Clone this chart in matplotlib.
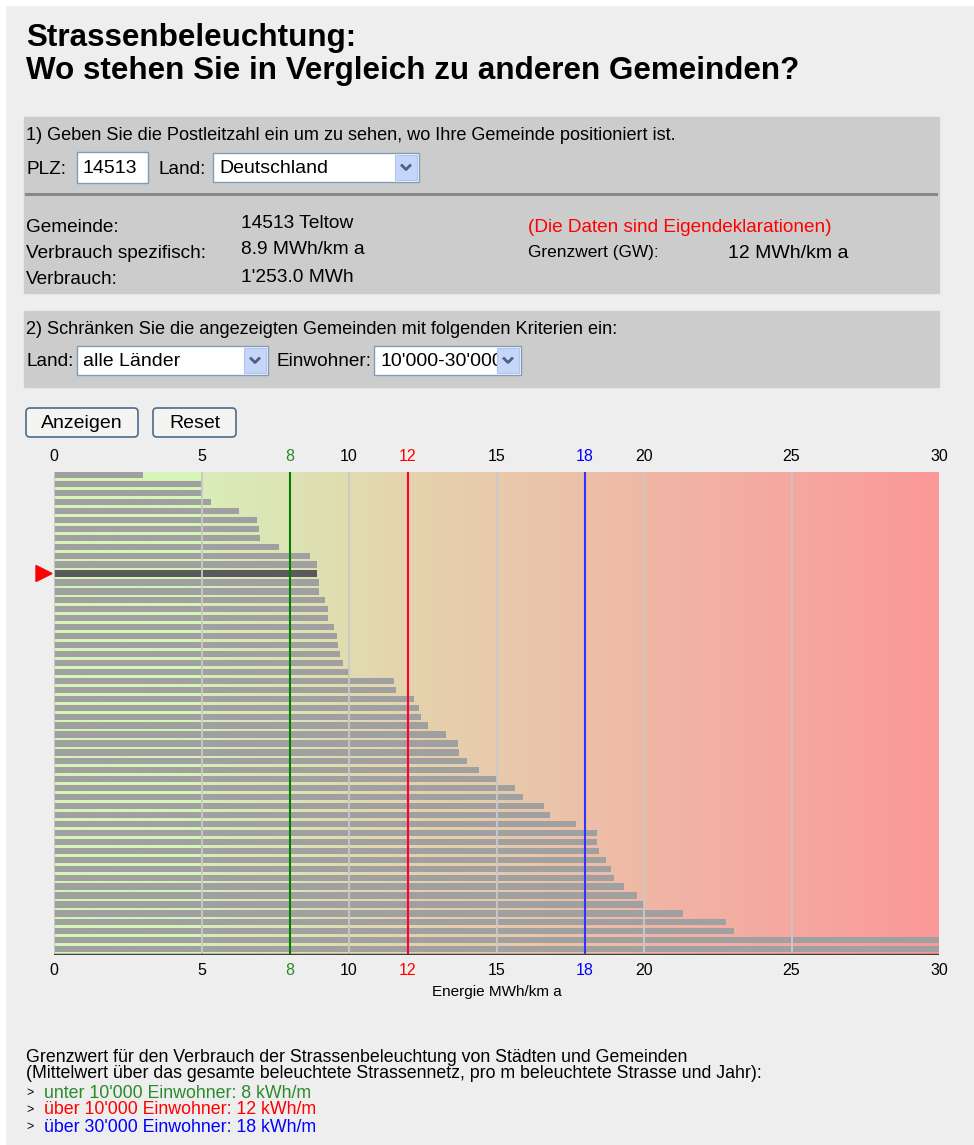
import matplotlib
matplotlib.use('Agg')
import matplotlib.pyplot as plt
from matplotlib.patches import Rectangle, FancyBboxPatch, Polygon
import numpy as np

plt.rcParams['font.family'] = ['Liberation Sans', 'DejaVu Sans']

# values, MWh/km a, one row per municipality (top to bottom)
verbrauch = [3.0, 5.0, 5.0, 5.32, 6.28, 6.88, 6.94, 6.98, 7.64, 8.69,
             8.9, 8.9, 8.98, 8.98, 9.19, 9.28, 9.28, 9.48, 9.58, 9.64,
             9.68, 9.78, 10.0, 11.54, 11.58, 12.19, 12.38, 12.44, 12.69, 13.30,
             13.69, 13.74, 13.99, 14.40, 15.0, 15.63, 15.91, 16.62, 16.83, 17.68,
             18.41, 18.41, 18.47, 18.71, 18.88, 18.98, 19.32, 19.77, 19.97, 21.33,
             22.77, 23.04, 30.0, 30.0]
teltow_idx = 11

grid_ticks = [0, 5, 10, 15, 20, 25]
limits = [8, 12, 18]
limit_colors = ['#008000', '#ff0033', '#3333ff']
tick_vals = [0, 5, 8, 10, 12, 15, 18, 20, 25, 30]
tick_colors = ['black', 'black', '#2a8a2a', 'black', '#ff0000', 'black', '#0000ff', 'black', 'black', 'black']

W, H = 974, 1145
fig = plt.figure(figsize=(W / 100, H / 100), dpi=100)
fig.patch.set_facecolor('#eeeeee')

page = fig.add_axes([0, 0, 1, 1])
page.set_xlim(0, W)
page.set_ylim(H, 0)
page.axis('off')

# white frame at top/left
page.add_patch(Rectangle((0, 0), W, 5, color='white', zorder=0))
page.add_patch(Rectangle((0, 0), 5, H, color='white', zorder=0))


def txt(x, y, s, size=13.1, color='black', **kw):
    page.text(x, y, s, fontsize=size, color=color, va='center', ha=kw.pop('ha', 'left'), **kw)


def field(x0, y0, x1, y1, s, arrow=False):
    page.add_patch(Rectangle((x0, y0), x1 - x0, y1 - y0, facecolor='white',
                             edgecolor='#7f9db9', lw=1))
    t = page.text(x0 + 6, (y0 + y1) / 2 + 1, s, fontsize=14, va='center')
    if arrow:
        ax0 = x1 - 24
        clip = Rectangle((x0, y0), ax0 - x0, y1 - y0, transform=page.transData)
        t.set_clip_on(True)
        t.set_clip_path(clip)
        page.add_patch(Rectangle((ax0, y0 + 2), 22, y1 - y0 - 4, facecolor='#c5d6fa',
                                 edgecolor='#b0c4ee', lw=0.8, zorder=3))
        cx, cy = ax0 + 11, (y0 + y1) / 2
        page.plot([cx - 4, cx, cx + 4], [cy - 2, cy + 2, cy - 2], color='#4d6185', lw=2, zorder=4)


# title
page.text(26, 38, 'Strassenbeleuchtung:', fontsize=22.6, fontweight='bold', va='center')
page.text(26, 71, 'Wo stehen Sie in Vergleich zu anderen Gemeinden?', fontsize=22.6,
          fontweight='bold', va='center')

# panel 1
page.add_patch(Rectangle((24, 117), 915, 176, color='#cccccc', zorder=0.5))
txt(26, 135, '1) Geben Sie die Postleitzahl ein um zu sehen, wo Ihre Gemeinde positioniert ist.')
txt(26, 169, 'PLZ:', 13.7)
field(77, 152, 148, 183, '14513')
txt(158, 169, 'Land:', 13.7)
field(213, 153, 419, 182, 'Deutschland', arrow=True)
page.plot([26, 936], [194, 194], color='#888888', lw=2.2)

txt(26, 228, 'Gemeinde:', 13.7)
txt(26, 254, 'Verbrauch spezifisch:', 13.7)
txt(26, 280, 'Verbrauch:', 13.7)
txt(241, 223, '14513 Teltow', 13.8)
txt(241, 250, '8.9 MWh/km a', 13.8)
txt(241, 277, "1'253.0 MWh", 13.8)
txt(528, 227, '(Die Daten sind Eigendeklarationen)', 13.7, color='#ff0000')
txt(528, 253, 'Grenzwert (GW):', 12.4)
txt(728, 253, '12 MWh/km a', 14)

# panel 2
page.add_patch(Rectangle((24, 311), 915, 76, color='#cccccc', zorder=0.5))
txt(26, 329, '2) Schränken Sie die angezeigten Gemeinden mit folgenden Kriterien ein:')
txt(26, 361, 'Land:', 13.7)
field(77, 346, 268, 375, 'alle Länder', arrow=True)
txt(277, 361, 'Einwohner:', 13.7)
field(374, 346, 521, 375, "10'000-30'000", arrow=True)

# buttons
for x0, x1, s in [(26, 138, 'Anzeigen'), (153, 236, 'Reset')]:
    page.add_patch(FancyBboxPatch((x0, 408), x1 - x0, 29, boxstyle='round,pad=0,rounding_size=4',
                                  facecolor='#f4f4f2', edgecolor='#4f6a8a', lw=1.2))
    page.text((x0 + x1) / 2, 423.5, s, fontsize=14, ha='center', va='center')

# chart
cx0, cx1, cy0, cy1 = 54, 939, 472, 955
ax = fig.add_axes([cx0 / W, 1 - cy1 / H, (cx1 - cx0) / W, (cy1 - cy0) / H])
n = len(verbrauch)
ax.set_xlim(0, 30)
ax.set_ylim(n, 0)

xs = np.linspace(0, 30, 601)
nodes = [0, 4.999, 5, 8, 10, 12, 15, 18, 20, 25, 30]
cols = ['#d6f5b8', '#d6f5b8', '#d9edb9', '#dde3b4', '#e0dcb0', '#e5d3ad', '#e8caab',
        '#ecc0a8', '#f0b7a5', '#f5a8a0', '#fb9898']
rgb = np.array([matplotlib.colors.to_rgb(c) for c in cols])
grad = np.stack([np.interp(xs, nodes, rgb[:, k]) for k in range(3)], axis=-1)[None, :, :]
ax.imshow(grad, extent=[0, 30, n, 0], aspect='auto', interpolation='bilinear', zorder=0)

bar_colors = ['#a0a0a0'] * n
bar_colors[teltow_idx] = '#5a5a5a'
ax.barh(np.arange(n), verbrauch, height=0.70, align='edge', color=bar_colors, zorder=1)

for g in grid_ticks:
    ax.axvline(g, color='#c8c8c8', lw=1.3, zorder=2)
for v, c in zip(limits, limit_colors):
    ax.axvline(v, color=c, lw=1.5, zorder=3)
ax.axhline(n, color='#404040', lw=2.5, zorder=4)

ax.set_xticks(tick_vals)
ax.set_xticklabels([str(v) for v in tick_vals])
ax.tick_params(axis='x', top=True, labeltop=True, bottom=True, labelbottom=True,
               length=0, pad=6, labelsize=11.5)
for t, c in zip(ax.xaxis.get_major_ticks(), tick_colors):
    t.label1.set_color(c)
    t.label2.set_color(c)
ax.set_yticks([])
ax.set_xlabel('Energie MWh/km a', fontsize=11, labelpad=5)
for s in ax.spines.values():
    s.set_visible(False)

# marker for selected municipality
ty = cy0 + (teltow_idx + 0.35) * (cy1 - cy0) / n
page.add_patch(Polygon([[36, ty - 8], [52, ty], [36, ty + 8]], closed=True, color='#ff0000'))

# footer
txt(26, 1057, 'Grenzwert für den Verbrauch der Strassenbeleuchtung von Städten und Gemeinden', 12.8)
txt(26, 1074, '(Mittelwert über das gesamte beleuchtete Strassennetz, pro m beleuchtete Strasse und Jahr):', 12.8)
for y, s, c in [(1093, "unter 10'000 Einwohner: 8 kWh/m", '#2a8a2a'),
                (1110, "über 10'000 Einwohner: 12 kWh/m", '#ff0000'),
                (1127, "über 30'000 Einwohner: 18 kWh/m", '#0000ff')]:
    txt(26, y, '>', 9)
    txt(44, y, s, 12.8, color=c)

fig.savefig('out.png', dpi=100, facecolor=fig.get_facecolor())
